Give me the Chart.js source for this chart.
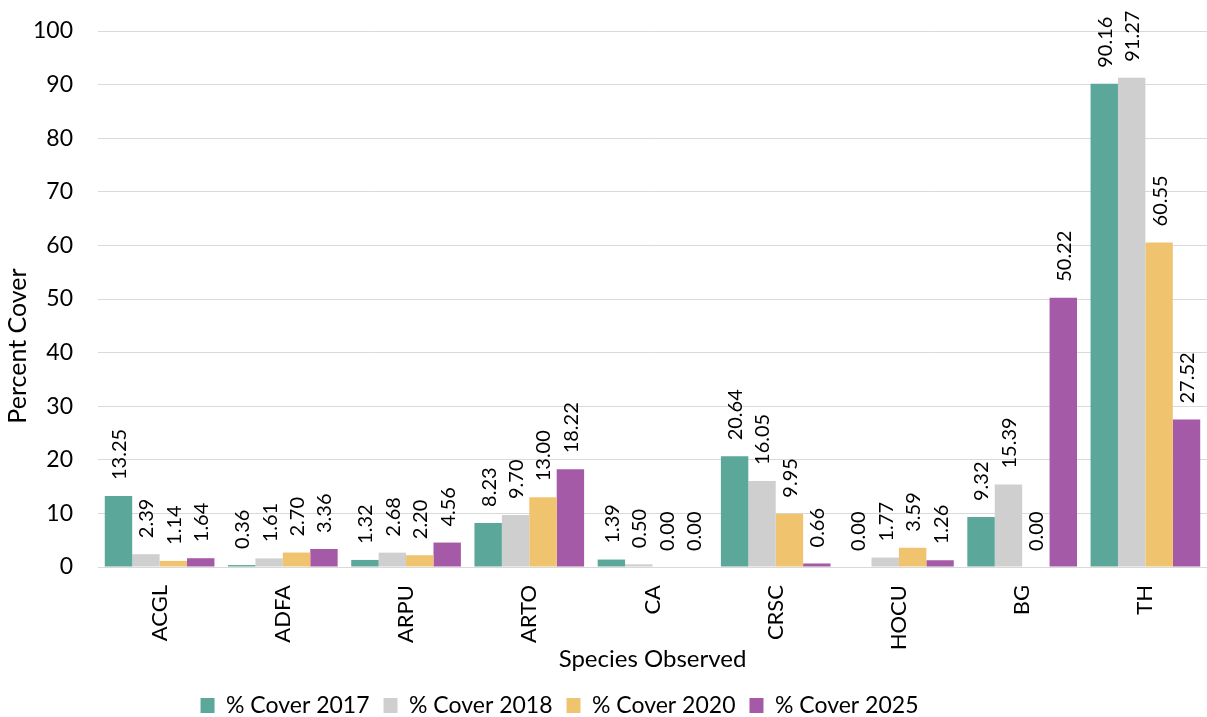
<!DOCTYPE html>
<html>
<head>
<meta charset="utf-8">
<script src="https://cdn.jsdelivr.net/npm/chart.js@4/dist/chart.umd.min.js"></script>
<style>
  html, body { margin: 0; padding: 0; background: #fff; }
  #wrap { width: 1207px; height: 717px; }
</style>
</head>
<body>
<div id="wrap"><canvas id="c"></canvas></div>
<script>
// Species codes along the x axis
const species = ['ACGL', 'ADFA', 'ARPU', 'ARTO', 'CA', 'CRSC', 'HOCU', 'BG', 'TH'];

// Percent cover per survey year
const cover2017 = [13.25, 0.36, 1.32, 8.23, 1.39, 20.64, 0.00, 9.32, 90.16];
const cover2018 = [2.39, 1.61, 2.68, 9.70, 0.50, 16.05, 1.77, 15.39, 91.27];
const cover2020 = [1.14, 2.70, 2.20, 13.00, 0.00, 9.95, 3.59, 0.00, 60.55];
const cover2025 = [1.64, 3.36, 4.56, 18.22, 0.00, 0.66, 1.26, 50.22, 27.52];

// Y axis range and step
const yMin = 0, yMax = 100, yStep = 10;

const FONT = 'Lato, "Open Sans", sans-serif';

// Writes each bar's value, rotated, just above its top
const valueLabels = {
  id: 'valueLabels',
  afterDatasetsDraw(chart) {
    const ctx = chart.ctx;
    ctx.save();
    ctx.fillStyle = '#000';
    ctx.font = '20px ' + FONT;
    ctx.textAlign = 'left';
    ctx.textBaseline = 'middle';
    chart.data.datasets.forEach((ds, i) => {
      const meta = chart.getDatasetMeta(i);
      meta.data.forEach((bar, j) => {
        ctx.save();
        ctx.translate(bar.x + 1, bar.y - 16);
        ctx.rotate(-Math.PI / 2);
        ctx.fillText(ds.data[j].toFixed(2), 0, 0);
        ctx.restore();
      });
    });
    ctx.restore();
  }
};

// Vertical axis title, set a little below the plot's middle
const yTitle = {
  id: 'yTitle',
  afterDraw(chart) {
    const ctx = chart.ctx;
    ctx.save();
    ctx.fillStyle = '#000';
    ctx.font = '25px ' + FONT;
    ctx.textAlign = 'center';
    ctx.textBaseline = 'middle';
    ctx.translate(18, 346);
    ctx.rotate(-Math.PI / 2);
    ctx.fillText('Percent Cover', 0, 0);
    ctx.restore();
  }
};

// Nudges the legend row down and to the left of centre
const legendShift = {
  id: 'legendShift',
  afterLayout(chart) {
    const lg = chart.legend;
    lg.top += 10; lg.bottom += 10;
    lg.left -= 46; lg.right -= 46;
  }
};

new Chart(document.getElementById('c'), {
  type: 'bar',
  data: {
    labels: species,
    datasets: [
      { label: '% Cover 2017', data: cover2017, backgroundColor: '#5BA89A' },
      { label: '% Cover 2018', data: cover2018, backgroundColor: '#CFCFCF' },
      { label: '% Cover 2020', data: cover2020, backgroundColor: '#F0C46F' },
      { label: '% Cover 2025', data: cover2025, backgroundColor: '#A55AA8' }
    ]
  },
  options: {
    responsive: true,
    maintainAspectRatio: false,
    animation: false,
    datasets: { bar: { categoryPercentage: 0.89, barPercentage: 1.0 } },
    layout: { padding: { top: 31, left: 4, right: 0, bottom: 0 } },
    plugins: {
      tooltip: { enabled: false },
      legend: {
        position: 'bottom',
        labels: {
          color: '#000',
          font: { family: FONT, size: 23 },
          boxWidth: 14,
          boxHeight: 15,
          padding: 14
        }
      }
    },
    scales: {
      x: {
        afterFit(scale) { scale.height = 103; },
        grid: { display: false, drawTicks: false },
        border: { color: '#D9D9D9' },
        ticks: {
          color: '#000',
          font: { family: FONT, size: 22 },
          maxRotation: 90,
          minRotation: 90,
          padding: 18
        },
        title: {
          display: true,
          text: 'Species Observed',
          color: '#000',
          font: { family: FONT, size: 24 },
          padding: { top: 0, bottom: -4 }
        }
      },
      y: {
        min: yMin,
        max: yMax,
        afterFit(scale) { scale.width = 94; scale.paddingTop = 0; },
        grid: { color: '#D9D9D9', drawTicks: false },
        border: { display: false },
        ticks: {
          stepSize: yStep,
          color: '#000',
          font: { family: FONT, size: 23 },
          padding: 25
        }
      }
    }
  },
  plugins: [valueLabels, yTitle, legendShift]
});
</script>
</body>
</html>
